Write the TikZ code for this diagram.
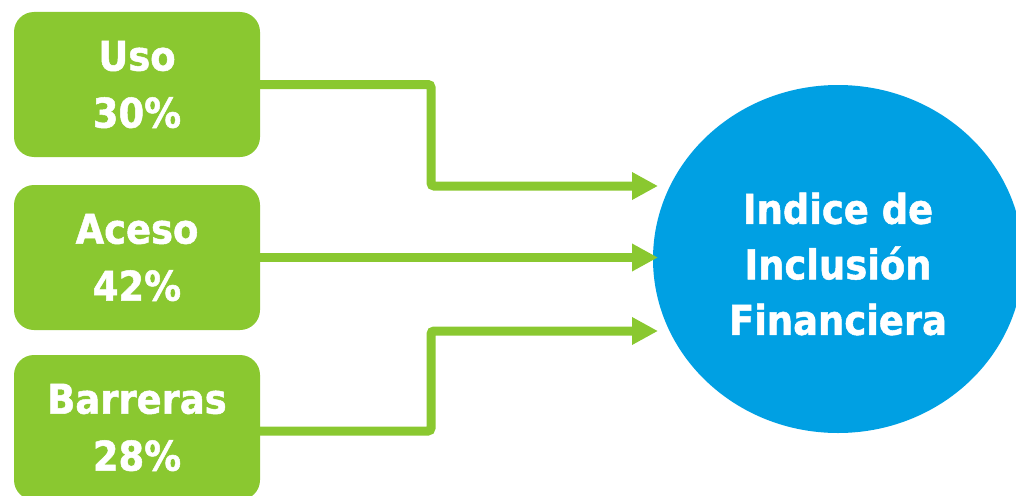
\documentclass[tikz,border=0pt]{standalone}
\usepackage{fontspec}
\setmainfont{DejaVu Sans}[FakeStretch=0.9, BoldFeatures={FakeBold=1.2}]
\usetikzlibrary{shapes.geometric,arrows.meta}
\definecolor{grn}{RGB}{138,200,48}
\definecolor{blu}{RGB}{0,160,227}
\tikzset{
  gbox/.style={fill=grn, draw=none, rounded corners=20pt, minimum width=246pt, minimum height=145pt,
    inner sep=0pt, align=center, text=white, font=\fontsize{41}{57}\selectfont\bfseries},
  ctext/.style={align=center, text=white, font=\fontsize{41}{55.5}\selectfont\bfseries, inner sep=0pt},
  conn/.style={draw=grn, line width=9pt, rounded corners=3pt, -{Triangle[length=26pt,width=26pt]}},
}
\begin{document}
\begin{tikzpicture}[x=1pt,y=-1pt]
\clip (0,0) rectangle (1016,495);
\node[gbox] (b1) at (137,84.5) {Uso\\30\%};
\node[gbox] (b2) at (137,257.5) {Aceso\\42\%};
\node[gbox] (b3) at (137,427.5) {Barreras\\28\%};
\node[ellipse, fill=blu, draw=none, minimum width=370pt, minimum height=348pt, inner sep=0pt] (circ) at (838,259) {};
\node[ctext] (ct) at ([yshift=-5pt]circ.center) {Indice de\\Inclusión\\Financiera};
\coordinate (k1) at (431,186);
\coordinate (t1) at (658,186);
\coordinate (t2) at (658,257.5);
\coordinate (k3) at (431,331);
\coordinate (t3) at (658,331);
\coordinate (s3) at ([yshift=-3.5pt]b3.east);
\draw[conn] (b1.east) -| (k1) -- (t1);
\draw[conn] (b2.east) -- (t2);
\draw[conn] (s3) -| (k3) -- (t3);
\end{tikzpicture}
\end{document}
